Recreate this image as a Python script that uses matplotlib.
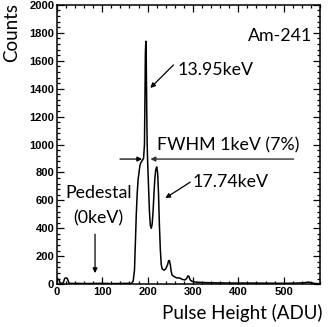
import matplotlib
matplotlib.use("Agg")
import matplotlib.pyplot as plt
from matplotlib.ticker import MultipleLocator

adu = [0, 1, 4, 7, 10, 14, 17, 20, 23, 26, 30, 45, 60, 80, 100, 120, 140, 155, 164,
       168, 171, 173, 175, 177, 179, 181, 183, 185, 187, 189, 191, 193, 194, 195,
       196, 197, 198, 199, 200, 202, 204, 206, 208, 210, 212, 214, 216, 218, 220,
       222, 224, 226, 228, 230, 232, 236, 240, 244, 246, 248, 250, 252, 254, 258,
       264, 270, 276, 282, 286, 289, 291, 294, 298, 305, 320, 340, 380, 420, 460,
       500, 530, 545, 555, 560, 570, 580]
counts = [0, 35, 35, 10, 5, 10, 40, 45, 40, 10, 5, 6, 4, 5, 6, 4, 5, 6, 5,
          20, 100, 300, 500, 650, 750, 800, 850, 870, 880, 890, 900, 1000, 1300, 1650,
          1740, 1600, 1250, 1000, 880, 700, 520, 420, 400, 430, 520, 650, 760, 820, 840,
          800, 650, 420, 250, 140, 110, 100, 110, 140, 165, 170, 140, 90, 65, 55,
          45, 45, 35, 30, 40, 60, 55, 30, 20, 15, 12, 10, 8, 8, 7,
          6, 8, 10, 15, 10, 5, 3]

x_ticks = [0, 100, 200, 300, 400, 500]
y_ticks = [0, 200, 400, 600, 800, 1000, 1200, 1400, 1600, 1800, 2000]

fig = plt.figure(figsize=(3.35, 3.27), dpi=100)
ax = fig.add_axes([0.170, 0.131, 0.785, 0.854])
ax.plot(adu, counts, color="black", lw=1.1)
ax.set_xlim(0, 580)
ax.set_ylim(0, 2000)
ax.set_xticks(x_ticks)
ax.set_yticks(y_ticks)
ax.xaxis.set_minor_locator(MultipleLocator(20))
ax.yaxis.set_minor_locator(MultipleLocator(40))
ax.tick_params(which="both", direction="in", top=True, right=True, width=0.9)
ax.tick_params(which="major", length=5)
ax.tick_params(which="minor", length=2.5)
ax.tick_params(axis="both", pad=2)
for lab in ax.get_xticklabels() + ax.get_yticklabels():
    lab.set_fontfamily("Liberation Sans")
    lab.set_fontweight("bold")
    lab.set_fontsize(8)
for s in ax.spines.values():
    s.set_linewidth(1.1)

tf = "Lato"
fig.text(0.008, 0.99, "Counts", rotation=90, ha="left", va="top", fontsize=13.5, family=tf)
fig.text(0.962, 0.015, "Pulse Height (ADU)", ha="right", va="bottom", fontsize=13.5, family=tf)

fs = 12.8
ax.text(564, 1778, "Am-241", ha="right", va="center", fontsize=fs, family=tf)
ax.text(265, 1534, "13.95keV", ha="left", va="center", fontsize=fs, family=tf)
ax.text(221, 996, "FWHM 1keV (7%)", ha="left", va="center", fontsize=fs, family=tf)
ax.text(299, 731, "17.74keV", ha="left", va="center", fontsize=fs, family=tf)
ax.text(92, 652, "Pedestal", ha="center", va="center", fontsize=fs, family=tf)
ax.text(92, 473, "(0keV)", ha="center", va="center", fontsize=fs, family=tf)

ap = dict(arrowstyle="-|>", color="black", lw=0.9, mutation_scale=7, shrinkA=0, shrinkB=0)
ax.annotate("", xy=(206, 1405), xytext=(257, 1570), arrowprops=ap)
ax.annotate("", xy=(239, 616), xytext=(294, 731), arrowprops=ap)
ax.annotate("", xy=(84, 79), xytext=(84, 358), arrowprops=ap)
ax.annotate("", xy=(188, 896), xytext=(139, 896), arrowprops=ap)
ax.annotate("", xy=(206, 896), xytext=(522, 896),
            arrowprops=dict(arrowstyle="-|>", color="#333333", lw=1.0, mutation_scale=7,
                            shrinkA=0, shrinkB=0))

fig.savefig("out.png", dpi=100)
